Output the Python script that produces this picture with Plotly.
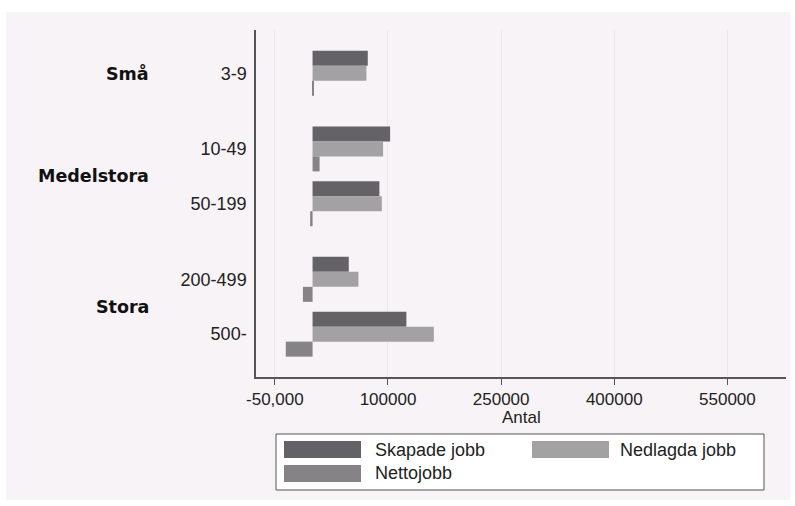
import plotly.graph_objects as go

# ---- data ----
groups = ["Små", "Medelstora", "Stora"]
subcats = ["3-9", "10-49", "50-199", "200-499", "500-"]
group_of = [0, 1, 1, 2, 2]
series_names = ["Skapade jobb", "Nedlagda jobb", "Nettojobb"]
skapade = [73200, 102800, 88600, 48000, 124400]
nedlagda = [71400, 93500, 91800, 60800, 160800]
netto = [1800, 9300, -3200, -12800, -35500]
tick_vals = [-50000, 100000, 250000, 400000, 550000]
tick_text = ["-50,000", "100000", "250000", "400000", "550000"]
x_title = "Antal"

colors = ["#646266", "#a3a1a4", "#858386"]

# ---- layout constants ----
W, H = 795, 506
ML, MR, MT, MB = 256, 9, 30, 129
PW, PH = W - ML - MR, H - MT - MB
GROUP_GAP = 0.38
FONT = "Liberation Sans, Arial, sans-serif"
BFONT = "DejaVu Sans"
FS = 18


def px(x):
    return (x - ML) / PW


def py(y):
    return (H - MB - y) / PH


pos = [i + GROUP_GAP * g for i, g in enumerate(group_of)]

fig = go.Figure()
for name, vals, c in zip(series_names, [skapade, nedlagda, netto], colors):
    fig.add_trace(go.Bar(
        y=pos, x=vals, name=name, orientation="h",
        marker=dict(color=c, line=dict(width=0)),
        showlegend=False,
    ))

shapes = []
annotations = []
# pink background panel
shapes.append(dict(type="rect", xref="paper", yref="paper",
                   x0=px(6), x1=px(790), y0=py(500), y1=py(12),
                   fillcolor="#f7f3f7", line=dict(width=0), layer="below"))

# group labels
for gi, g in enumerate(groups):
    members = [pos[i] for i in range(len(subcats)) if group_of[i] == gi]
    annotations.append(dict(
        text="<b>%s</b>" % g, xref="paper", yref="y",
        x=px(151), y=sum(members) / len(members),
        xanchor="right", yanchor="middle", showarrow=False,
        font=dict(family=BFONT, size=17.5, color="#111111")))

# x title
annotations.append(dict(text=x_title, xref="paper", yref="paper",
                        x=0.5, y=py(417.5), xanchor="center", yanchor="middle",
                        showarrow=False,
                        font=dict(family=FONT, size=17, color="#222222")))

# manual legend
shapes.append(dict(type="rect", xref="paper", yref="paper",
                   x0=px(276), x1=px(764), y0=py(490), y1=py(434),
                   fillcolor="white", line=dict(color="#555555", width=1),
                   layer="above"))
leg_items = [(284, 441, 373), (532, 441, 618), (284, 465, 373)]
for (sx, sy, tx), name, c in zip(leg_items, series_names, colors):
    shapes.append(dict(type="rect", xref="paper", yref="paper",
                       x0=px(sx), x1=px(sx + 77), y0=py(sy + 17), y1=py(sy),
                       fillcolor=c, line=dict(width=0), layer="above"))
    annotations.append(dict(text=name, xref="paper", yref="paper",
                            x=px(tx), y=py(sy + 8.5), xanchor="left",
                            yanchor="middle", showarrow=False,
                            font=dict(family=FONT, size=FS, color="#222222")))

fig.update_layout(
    width=W, height=H,
    margin=dict(l=ML, r=MR, t=MT, b=MB, pad=0),
    paper_bgcolor="white", plot_bgcolor="white",
    barmode="group", bargap=0.179, bargroupgap=0,
    font=dict(family=FONT, size=FS, color="#222222"),
    shapes=shapes, annotations=annotations,
    xaxis=dict(range=[-75000, 627700], tickvals=tick_vals, ticktext=tick_text,
               showgrid=True, gridcolor="#e8e8e8", gridwidth=1,
               zeroline=False, showline=True, linecolor="#555555",
               linewidth=1.5, ticks="outside", ticklen=6,
               tickcolor="#555555", tickfont=dict(family=FONT, size=17)),
    yaxis=dict(range=[5.542, -0.79], tickvals=pos, ticktext=subcats,
               showgrid=False, zeroline=False, showline=True,
               linecolor="#555555", linewidth=1.5, ticks="",
               ticklabelstandoff=4, tickfont=dict(family=FONT, size=FS)),
)

fig.write_html("out.html",
               config={"displayModeBar": False},
               post_script="document.body.style.margin='0';"
                           "document.body.style.overflow='hidden';")
